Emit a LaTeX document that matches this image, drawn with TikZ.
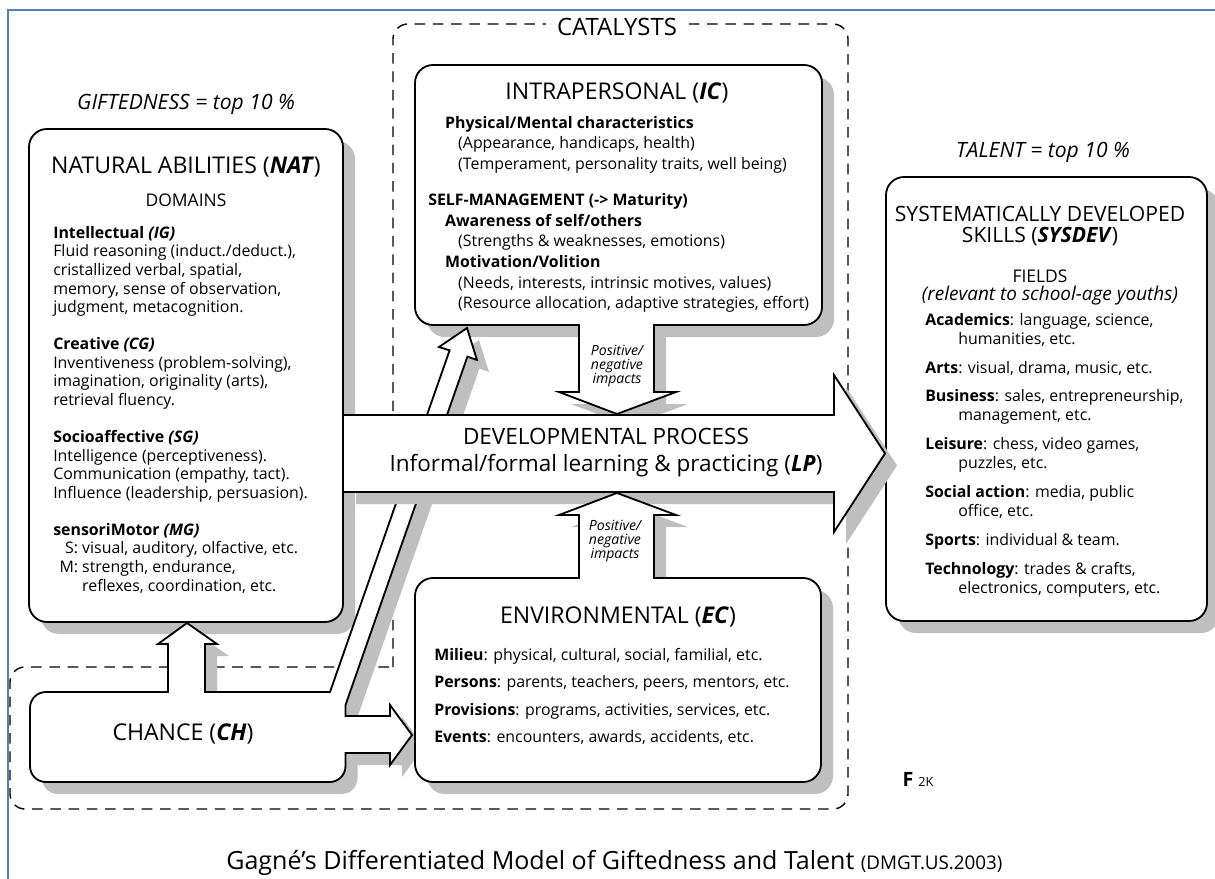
\documentclass[tikz,border=0pt]{standalone}
\usepackage{fontspec}
\setmainfont{Open Sans}
\definecolor{frameblue}{RGB}{79,129,189}
\tikzset{
  blockpath/.style={fill=white, draw=black, line width=1.3pt, line join=miter},
  dropshadow/.style={fill=black!25, shift={(12,12)}},
  catline/.style={line width=1pt, dash pattern=on 7.5pt off 5.5pt, rounded corners=0.375cm},
  titletext/.style={font=\fontsize{16.4}{18}\selectfont, inner sep=0pt},
  subtext/.style={font=\fontsize{12.4}{14}\selectfont, inner sep=0pt},
  gift/.style={font=\fontsize{15}{17}\selectfont\itshape, inner sep=0pt},
  bodytext/.style={font=\fontsize{11.3}{13.2}\selectfont, align=left, anchor=north west, inner sep=0pt},
  impact/.style={font=\fontsize{10}{10}\selectfont\itshape, align=center, inner sep=0pt},
}
% block outlines (pixel grid, y downwards)
\newcommand*\pathic{(415,100) -- (415,83) .. controls (415,73) and (423,65) .. (433,65) -- (804,65) .. controls (814,65) and (822,73) .. (822,83) -- (822,307) .. controls (822,317) and (814,325) .. (804,325) -- (654,325) -- (654,392) -- (676,392) -- (617,414) -- (559,392) -- (579,392) -- (579,325) -- (433,325) .. controls (423,325) and (415,317) .. (415,307) -- cycle}
\newcommand*\pathec{(415,700) -- (415,596) .. controls (415,586) and (423,578) .. (433,578) -- (579,578) -- (579,515) -- (559,515) -- (617,493) -- (676,515) -- (654,515) -- (654,578) -- (803,578) .. controls (813,578) and (821,586) .. (821,596) -- (821,764) .. controls (821,774) and (813,782) .. (803,782) -- (433,782) .. controls (423,782) and (415,774) .. (415,764) -- cycle}
\newcommand*\pathch{(30,740) -- (30,708) .. controls (30,699) and (37,692) .. (46,692) -- (168,692) -- (168,644) -- (158,644) -- (187,623) -- (217,644) -- (205,644) -- (205,692) -- (330,692) -- (449.6,350.4) -- (439,347) -- (467,328) -- (477,360) -- (467.4,356.6) -- (345.5,705) -- (345.5,716) -- (390,716) -- (390,705) -- (412,735) -- (390,765) -- (390,753) -- (345.5,753) -- (345.5,766) .. controls (345.5,775) and (338.5,782) .. (329.5,782) -- (46,782) .. controls (37,782) and (30,775) .. (30,766) -- cycle}
\newcommand*\pathdp{(344,415) -- (834,415) -- (834,375) -- (885,453.5) -- (834,532) -- (834,492) -- (344,492)}
\begin{document}
\begin{tikzpicture}[x=0.025cm, y=-0.025cm]
\useasboundingbox (0,0) rectangle (1215,879);
\draw[frameblue, line width=1.4pt] (8,879) -- (8,10) -- (1215,10);

% catalysts
\draw[catline] (393,667) -- (393,24) -- (848,24) -- (848,809) -- (10,809) -- (10,667) -- (393,667);
\node[titletext, font=\fontsize{17}{18}\selectfont, fill=white, inner xsep=8pt, inner ysep=2pt] (catalysts) at (617,27) {CATALYSTS};

% blocks
\fill[dropshadow, rounded corners=0.45cm] (29,129) rectangle (343,622);
\draw[blockpath, rounded corners=0.45cm] (29,129) rectangle (343,622);
\fill[dropshadow] \pathic;
\draw[blockpath] \pathic;
\fill[dropshadow, rounded corners=0.45cm] (886,177) rectangle (1207,621);
\draw[blockpath, rounded corners=0.45cm] (886,177) rectangle (1207,621);
\fill[dropshadow] \pathch;
\draw[blockpath] \pathch;
\fill[dropshadow] \pathdp;
\draw[blockpath] \pathdp;
\fill[dropshadow] \pathec;
\draw[blockpath] \pathec;

% natural abilities
\node[gift] (gifted) at (186,104) {GIFTEDNESS = top 10 \%};
\node[titletext] (nattitle) at (186,167) {NATURAL ABILITIES (\textbf{\textit{NAT}})};
\node[subtext] (domains) at (186,200) {DOMAINS};
\node[bodytext] (natbody) at (53,226) {%
\textbf{Intellectual \textit{(IG)}}\\
Fluid reasoning (induct./deduct.),\\
cristallized verbal, spatial,\\
memory, sense of observation,\\
judgment, metacognition.\\[13.2pt]
\textbf{Creative \textit{(CG)}}\\
Inventiveness (problem-solving),\\
imagination, originality (arts),\\
retrieval fluency.\\[13.2pt]
\textbf{Socioaffective \textit{(SG)}}\\
Intelligence (perceptiveness).\\
Communication (empathy, tact).\\
Influence (leadership, persuasion).\\[13.2pt]
\textbf{sensoriMotor \textit{(MG)}}\\
\makebox[20.6pt][r]{S: }visual, auditory, olfactive, etc.\\
\makebox[20.6pt][r]{M: }strength, endurance,\\
\hspace*{20.6pt}reflexes, coordination, etc.};

% intrapersonal
\node[titletext] (ictitle) at (617,93) {INTRAPERSONAL (\textbf{\textit{IC}})};
\node[bodytext, font=\fontsize{11.3}{14.65}\selectfont] (icbody) at (428,116) {%
\hspace*{12pt}\textbf{Physical/Mental characteristics}\\
\hspace*{21.3pt}(Appearance, handicaps, health)\\
\hspace*{21.3pt}(Temperament, personality traits, well being)\\[11pt]
\textbf{SELF-MANAGEMENT (-> Maturity)}\\
\hspace*{12pt}\textbf{Awareness of self/others}\\
\hspace*{21.3pt}(Strengths \& weaknesses, emotions)\\
\hspace*{12pt}\textbf{Motivation/Volition}\\
\hspace*{21.3pt}(Needs, interests, intrinsic motives, values)\\
\hspace*{21.3pt}(Resource allocation, adaptive strategies, effort)};
\node[impact] (impactup) at (617,366) {Positive/\\negative\\impacts};

% developmental process
\node[titletext, align=center, font=\fontsize{16}{19.2}\selectfont] (dptitle) at (606,453) {DEVELOPMENTAL PROCESS\\Informal/formal learning \& practicing (\textbf{\textit{LP}})};
\node[impact] (impactdown) at (615,541) {Positive/\\negative\\impacts};

% environmental
\node[titletext] (ectitle) at (618,617) {ENVIRONMENTAL (\textbf{\textit{EC}})};
\node[bodytext, font=\fontsize{11.3}{19.4}\selectfont] (ecbody) at (434,648) {%
\textbf{Milieu}: physical, cultural, social, familial, etc.\\
\textbf{Persons}: parents, teachers, peers, mentors, etc.\\
\textbf{Provisions}: programs, activities, services, etc.\\
\textbf{Events}: encounters, awards, accidents, etc.};

% chance
\node[titletext] (chance) at (183,734) {CHANCE (\textbf{\textit{CH}})};

% talent
\node[gift] (talent) at (1043,152) {TALENT = top 10 \%};
\node[titletext, align=center, font=\fontsize{15}{15.6}\selectfont] (sdtitle) at (1040,226) {SYSTEMATICALLY DEVELOPED\\SKILLS (\textbf{\textit{SYSDEV}})};
\node[subtext] (fields) at (1040,276) {FIELDS};
\node[font=\fontsize{13.5}{15}\selectfont\itshape, inner sep=0pt] (relevant) at (1050,296) {(relevant to school-age youths)};
\node[bodytext, font=\fontsize{11.3}{13.5}\selectfont] (sdbody) at (925,313) {%
\textbf{Academics}: language, science,\\
\hspace*{23.5pt}humanities, etc.\\[7pt]
\textbf{Arts}: visual, drama, music, etc.\\[7pt]
\textbf{Business}: sales, entrepreneurship,\\
\hspace*{23.5pt}management, etc.\\[7pt]
\textbf{Leisure}: chess, video games,\\
\hspace*{23.5pt}puzzles, etc.\\[7pt]
\textbf{Social action}: media, public\\
\hspace*{23.5pt}office, etc.\\[7pt]
\textbf{Sports}: individual \& team.\\[7pt]
\textbf{Technology}: trades \& crafts,\\
\hspace*{23.5pt}electronics, computers, etc.};

% signature and caption
\node[font=\rmfamily\bfseries\fontsize{14}{14}\selectfont, inner sep=0pt] (mark) at (908,779) {F};
\node[font=\fontsize{9}{10}\selectfont, anchor=west, inner sep=0pt] (markyear) at (918,782) {2K};
\node[anchor=base west, inner sep=0pt, font=\fontsize{17.8}{20}\selectfont] (caption) at (226,869) {Gagné's Differentiated Model of Giftedness and Talent {\fontsize{13.4}{15}\selectfont(DMGT.US.2003)}};
\end{tikzpicture}
\end{document}
